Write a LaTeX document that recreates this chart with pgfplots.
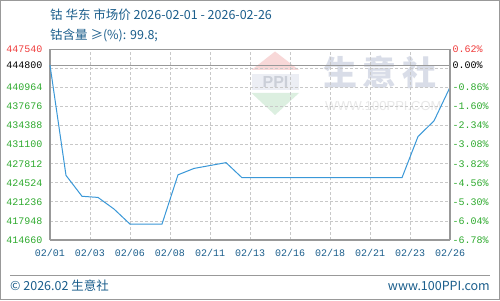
\documentclass[border=0pt]{standalone}
\usepackage{fontspec}
\usepackage{pgfplots}
\pgfplotsset{compat=1.18}
\newfontfamily\cjk{Noto Sans CJK SC}
\newfontfamily\mono{Liberation Mono}
\newfontfamily\sans{Liberation Sans}
\definecolor{titleblue}{HTML}{1B5E8C}
\definecolor{lblgreen}{HTML}{2EAA2E}
\definecolor{lblred}{HTML}{F03C3C}
\definecolor{linecol}{HTML}{3A98D8}
\definecolor{gridcol}{HTML}{C8C8C8}
\definecolor{framecol}{HTML}{999999}
\definecolor{wmtext}{HTML}{D9DDE8}
\definecolor{wmred}{HTML}{F8D8D8}
\definecolor{wmgreen}{HTML}{DCEFE0}

\pgfplotstableread{
day price
0  444800
1  425800
2  422200
3  422000
4  420000
5  417400
6  417400
7  417400
8  425900
9  427000
10 427500
11 428000
12 425400
13 425400
14 425400
15 425400
16 425400
17 425400
18 425400
19 425400
20 425400
21 425400
22 425400
23 432500
24 435200
25 441000
}\cobalt

\begin{document}
\begin{tikzpicture}[x=1pt,y=1pt]
% canvas and outer frame
\fill[white] (0,0) rectangle (500,300);
\draw[framecol, line width=1pt] (0.5,0.5) rectangle (499.5,299.5);

% header
\node[anchor=west, inner sep=0pt, text=titleblue, font=\cjk\fontsize{12.5}{14}\selectfont] at (50,285) {钴 华东 市场价 2026-02-01 - 2026-02-26};
\node[anchor=west, inner sep=0pt, text=titleblue, font=\cjk\fontsize{12.5}{14}\selectfont] at (50,265) {钴含量 ≥(\%): 99.8;};

% watermark
\fill[wmred] (275,248.5) -- (251.5,230) -- (299,230) -- cycle;
\fill[wmtext!50] (252,226) rectangle (298.5,210);
\node[text=wmtext!85!gray, font=\sans\bfseries\fontsize{16}{16}\selectfont] at (275.5,218) {PPI};
\fill[wmgreen] (251.5,207) -- (299,207) -- (275,185) -- cycle;
\node[anchor=west, inner sep=0pt, text=wmtext, font=\cjk\bfseries\fontsize{34}{34}\selectfont] at (323,228) {生\,意\,社};
\node[anchor=west, inner sep=0pt, text=black!9, font=\sans\fontsize{13}{13}\selectfont] at (325,194) {WWW.100PPI.COM};

% footer
\draw[framecol, line width=0.8pt] (10,25) -- (490,25);
\node[anchor=west, inner sep=0pt, text=titleblue, font=\cjk\fontsize{12.5}{14}\selectfont] at (10,14) {© 2026.02 生意社};
\node[anchor=east, inner sep=0pt, text=titleblue, font=\cjk\fontsize{12.5}{14}\selectfont] at (490,14) {www.100PPI.com};

\begin{axis}[
  at={(50pt,60pt)}, anchor=south west,
  scale only axis, width=400pt, height=190.7pt,
  xmin=0, xmax=25, ymin=414660, ymax=447540,
  scaled y ticks=false, scaled x ticks=false,
  axis line style={framecol, line width=1.2pt},
  axis y line*=left, axis x line*=bottom,
  major tick length=0pt,
  xtick={0,2.5,...,25},
  xticklabels={02/01,02/03,02/06,02/08,02/11,02/13,02/16,02/18,02/21,02/23,02/26},
  xticklabel style={font=\mono\fontsize{10}{12}\selectfont, text=titleblue, yshift=-6pt},
  ytick={414660,417948,421236,424524,427812,431100,434388,437676,440964,444252,447540},
  yticklabels={
    \textcolor{lblgreen}{414660},\textcolor{lblgreen}{417948},\textcolor{lblgreen}{421236},
    \textcolor{lblgreen}{424524},\textcolor{lblgreen}{427812},\textcolor{lblgreen}{431100},
    \textcolor{lblgreen}{434388},\textcolor{lblgreen}{437676},\textcolor{lblgreen}{440964},
    {},\textcolor{lblred}{447540}},
  yticklabel style={font=\mono\fontsize{10}{12}\selectfont, xshift=-4pt},
  extra y ticks={444800},
  extra y tick labels={\textcolor{black}{444800}},
  extra y tick style={grid=major, major grid style={solid, framecol, line width=1.2pt}},
  grid=major,
  major grid style={dashed, gridcol, line width=0.8pt, dash pattern=on 3pt off 2pt},
  clip=false,
]
\addplot[linecol, line width=1pt] table[x=day, y=price] {\cobalt};
\draw[framecol, line width=1.2pt] (axis cs:0,447540) -- (axis cs:25,447540);
\end{axis}

\begin{axis}[
  at={(50pt,60pt)}, anchor=south west,
  scale only axis, width=400pt, height=190.7pt,
  xmin=0, xmax=25, ymin=414660, ymax=447540,
  scaled y ticks=false, scaled x ticks=false,
  axis x line=none, axis y line*=right,
  axis line style={framecol, line width=1.2pt},
  major tick length=0pt,
  ytick={414660,417948,421236,424524,427812,431100,434388,437676,440964,444252,447540},
  yticklabels={
    \textcolor{lblgreen}{-6.78\%},\textcolor{lblgreen}{-6.04\%},\textcolor{lblgreen}{-5.30\%},
    \textcolor{lblgreen}{-4.56\%},\textcolor{lblgreen}{-3.82\%},\textcolor{lblgreen}{-3.08\%},
    \textcolor{lblgreen}{-2.34\%},\textcolor{lblgreen}{-1.60\%},\textcolor{lblgreen}{-0.86\%},
    {},\textcolor{lblred}{0.62\%}},
  yticklabel style={font=\mono\fontsize{10}{12}\selectfont, anchor=west, xshift=-1pt},
  extra y ticks={444800},
  extra y tick labels={\textcolor{black}{0.00\%}},
]
\addplot[draw=none] coordinates {(0,430000)};
\end{axis}
\end{tikzpicture}
\end{document}
